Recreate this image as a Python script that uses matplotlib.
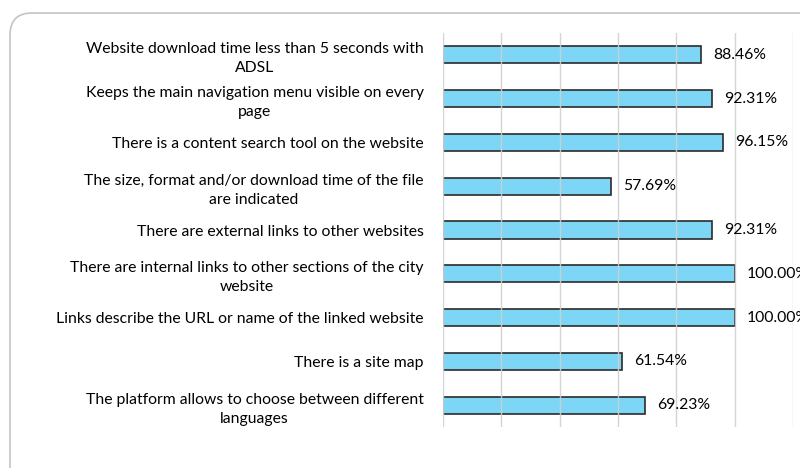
import matplotlib
matplotlib.use("Agg")
import matplotlib.pyplot as plt
from matplotlib.patches import FancyBboxPatch
from matplotlib.transforms import IdentityTransform

categories = [
    "Website download time less than 5 seconds with\nADSL",
    "Keeps the main navigation menu visible on every\npage",
    "There is a content search tool on the website",
    "The size, format and/or download time of the file\nare indicated",
    "There are external links to other websites",
    "There are internal links to other sections of the city\nwebsite",
    "Links describe the URL or name of the linked website",
    "There is a site map",
    "The platform allows to choose between different\nlanguages",
]
values = [88.46, 92.31, 96.15, 57.69, 92.31, 100.00, 100.00, 61.54, 69.23]

plt.rcParams['font.family'] = ['Lato', 'DejaVu Sans']

fig = plt.figure(figsize=(8, 4.68), dpi=100)
W, H = 800, 468
ax = fig.add_axes([443 / W, 1 - 427 / H, (793 - 443) / W, (427 - 33) / H])

y = list(range(len(categories)))
ax.barh(y, values, height=0.39, color='#7dd6f5', edgecolor='#2b2b2b',
        linewidth=1.2, zorder=2)
ax.set_xlim(0, 120)
ax.set_ylim(len(categories) - 0.5, -0.5)
ax.set_xticks([0, 20, 40, 60, 80, 100, 120])
ax.xaxis.grid(True, color='#d0d0d0', linewidth=1.0, zorder=3, alpha=0.9)
ax.set_axisbelow(False)
ax.tick_params(axis='x', length=0, labelbottom=False)
ax.tick_params(axis='y', length=0, pad=14)
ax.set_yticks(y)
ax.set_yticklabels(categories, fontsize=11.3, color='#000000', ha='right',
                   multialignment='center', linespacing=1.45)
for s in ax.spines.values():
    s.set_visible(False)

for yi, v in zip(y, values):
    ax.annotate(f"{v:.2f}%", (v, yi), xytext=(8.5, 0), textcoords='offset points',
                va='center', ha='left', fontsize=11.3, color='#000000',
                annotation_clip=False)

frame = FancyBboxPatch((10, -20), 820, H - 13 + 20,
                       boxstyle="round,pad=0,rounding_size=22",
                       transform=IdentityTransform(), facecolor='none',
                       edgecolor='#c4c4c4', linewidth=1.2)
fig.patches.append(frame)

fig.savefig("out.png", dpi=100)
